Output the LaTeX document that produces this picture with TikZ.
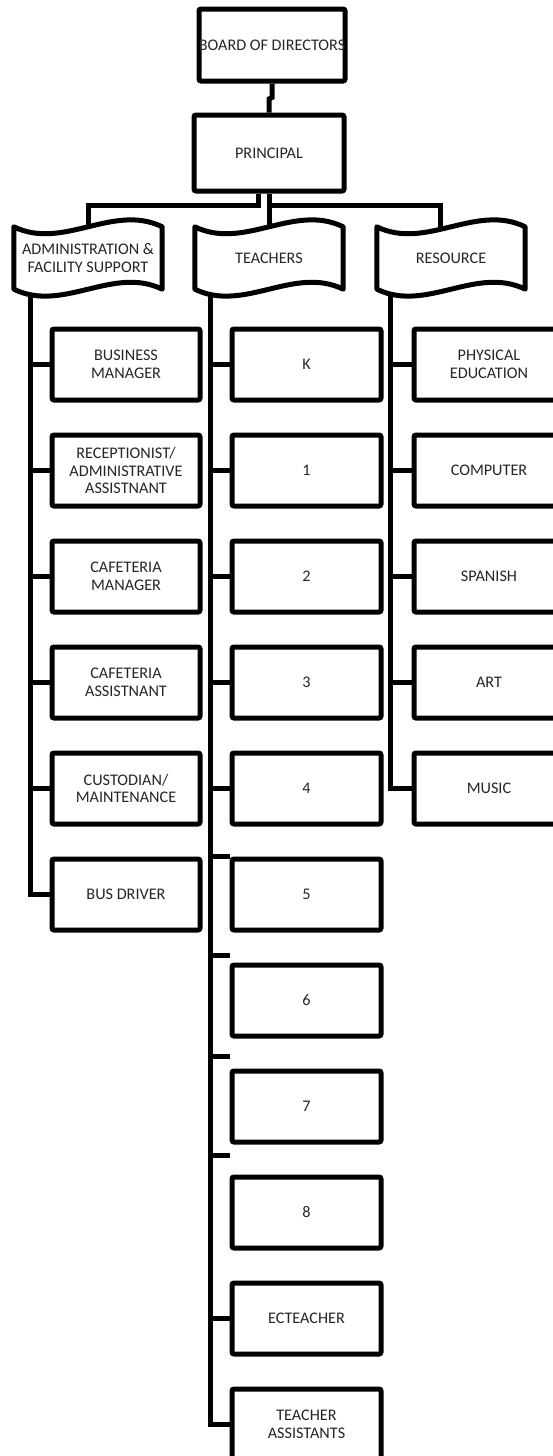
\documentclass[tikz,border=0pt]{standalone}
\usepackage{fontspec}
\setmainfont{Carlito}
\usetikzlibrary{backgrounds}
\begin{document}
\begin{tikzpicture}[x=1pt,y=-1pt,
  txt/.style={font=\fontsize{16.2}{17.5}\selectfont, text=black!85, align=center},
  orgbox/.style={txt, draw, fill=white, line width=5pt, rounded corners=2pt,
    minimum width=148pt, minimum height=71pt, inner sep=1pt},
  wide/.style={minimum width=150pt},
  docnode/.style={txt, minimum width=148pt, minimum height=62pt, inner sep=1pt},
  docline/.style={draw, fill=white, line width=5pt, line join=round},
  conn/.style={line width=5pt}]
\useasboundingbox (0,0) rectangle (553,1456);
\clip (0,0) rectangle (553,1456);

% top
\node[orgbox, minimum width=146pt, minimum height=72pt] (board) at (272,45) {\makebox[0pt]{BOARD OF DIRECTORS}};
\node[orgbox, wide, minimum height=76pt] (principal) at (269,153) {PRINCIPAL};

% department headers (punched-tape outlines)
\node[docnode] (admin) at (88,258) {};
\node[docnode] (teachers) at (269,258) {};
\node[docnode] (resource) at (451,258) {};
\foreach \d in {admin,teachers,resource}
  \path[docline] (\d.north west) .. controls +(49.3,24) and +(-49.3,-24) .. (\d.north east)
    -- (\d.south east) .. controls +(-49.3,-24) and +(49.3,24) .. (\d.south west) -- cycle;
\node[txt] at (admin.center) {ADMINISTRATION \&\\FACILITY SUPPORT};
\node[txt] at (teachers.center) {TEACHERS};
\node[txt] at (resource.center) {RESOURCE};

% administration column
\node[orgbox] (bm) at (126,364.5) {BUSINESS\\MANAGER};
\node[orgbox] (ra) at (126,470.5) {RECEPTIONIST/\\ADMINISTRATIVE\\ASSISTNANT};
\node[orgbox] (cm) at (126,576.5) {CAFETERIA\\MANAGER};
\node[orgbox] (ca) at (126,682.5) {CAFETERIA\\ASSISTNANT};
\node[orgbox] (cu) at (126,788.5) {CUSTODIAN/\\MAINTENANCE};
\node[orgbox] (bd) at (126,894.5) {BUS DRIVER};

% teachers column
\node[orgbox, minimum width=149pt] (tk) at (306.5,364.5) {K};
\node[orgbox, minimum width=149pt] (t1) at (306.5,470.5) {1};
\node[orgbox, minimum width=149pt] (t2) at (306.5,576.5) {2};
\node[orgbox, minimum width=149pt] (t3) at (306.5,682.5) {3};
\node[orgbox, minimum width=149pt] (t4) at (306.5,788.5) {4};
\node[orgbox, minimum width=149pt] (t5) at (306.5,894.5) {5};
\node[orgbox, minimum width=149pt] (t6) at (306.5,1000.5) {6};
\node[orgbox, minimum width=149pt] (t7) at (306.5,1106.5) {7};
\node[orgbox, minimum width=149pt] (t8) at (306.5,1212.5) {8};
\node[orgbox, minimum width=149pt] (tec) at (306.5,1318.5) {ECTEACHER};
\node[orgbox, minimum width=149pt] (tas) at (306.5,1424.5) {TEACHER\\ASSISTANTS};

% resource column
\node[orgbox, wide] (pe) at (489,364.5) {PHYSICAL\\EDUCATION};
\node[orgbox, wide] (co) at (489,470.5) {COMPUTER};
\node[orgbox, wide] (sp) at (489,576.5) {SPANISH};
\node[orgbox, wide] (art) at (489,682.5) {ART};
\node[orgbox, wide] (mu) at (489,788.5) {MUSIC};

% helper coordinates
\coordinate (bj) at (269,99);
\coordinate (ja) at (258,205);
\coordinate (jr) at (440,205);
\coordinate (xa) at (30,0);
\coordinate (xt) at (210,0);
\coordinate (xr) at (390,0);
\coordinate (c6) at ([yshift=7pt]t6.north west);
\coordinate (c7) at ([yshift=12pt]t7.north west);
\coordinate (c8) at ([yshift=19pt]t8.north west);

\begin{scope}[on background layer]
  \draw[conn] (board.south) -- ++(0,14) -- (bj) -- (principal.north);
  \draw[conn] (principal.south -| ja) -- (ja) -| (admin.center);
  \draw[conn] (principal.south) -- (teachers.center);
  \draw[conn] (principal.south |- ja) -| (jr |- resource.center);
  % administration trunk
  \draw[conn] (xa |- admin.center) |- (bd.west);
  \foreach \n in {bm,ra,cm,ca,cu} \draw[conn] (xa |- \n.west) -- (\n.west);
  % teachers trunk
  \draw[conn] (xt |- teachers.center) |- (tas.west);
  \foreach \n in {tk,t1,t2,t3,t4,tec} \draw[conn] (xt |- \n.west) -- (\n.west);
  \draw[conn] (xt |- t5.north west) -- (t5.north west);
  \draw[conn] (xt |- c6) -- (c6);
  \draw[conn] (xt |- c7) -- (c7);
  \draw[conn] (xt |- c8) -- (c8);
  % resource trunk
  \draw[conn] (xr |- resource.center) |- (mu.west);
  \foreach \n in {pe,co,sp,art} \draw[conn] (xr |- \n.west) -- (\n.west);
\end{scope}
\end{tikzpicture}
\end{document}
